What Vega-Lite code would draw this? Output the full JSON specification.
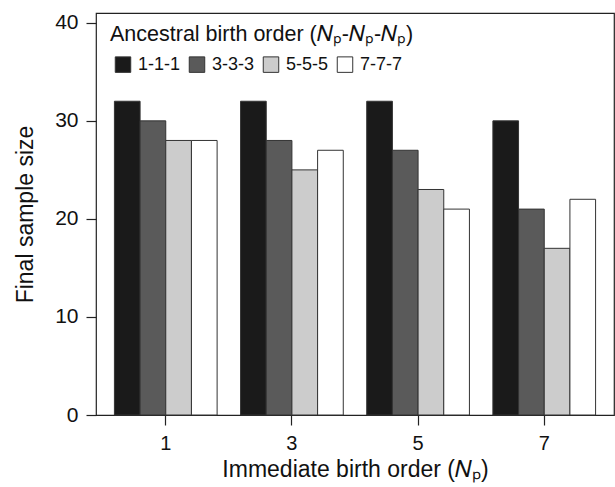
{
  "$schema": "https://vega.github.io/schema/vega-lite/v6.json",
  "width": 518,
  "height": 402,
  "autosize": {"type": "none"},
  "padding": {"left": 96, "top": 13, "right": 1, "bottom": 72},
  "background": "white",
  "config": {
    "font": "Liberation Sans",
    "view": {"stroke": "#222222", "strokeWidth": 1.2},
    "axis": {"grid": false, "domain": false, "tickColor": "#222222", "tickSize": 10, "tickWidth": 1.2, "labelColor": "#111111", "titleColor": "#111111", "labelFont": "Liberation Sans", "titleFont": "Liberation Sans", "titleFontWeight": "normal"}
  },
  "data": {
    "values": [
      {"np": "1", "anc": "1-1-1", "n": 32},
      {"np": "1", "anc": "3-3-3", "n": 30},
      {"np": "1", "anc": "5-5-5", "n": 28},
      {"np": "1", "anc": "7-7-7", "n": 28},
      {"np": "3", "anc": "1-1-1", "n": 32},
      {"np": "3", "anc": "3-3-3", "n": 28},
      {"np": "3", "anc": "5-5-5", "n": 25},
      {"np": "3", "anc": "7-7-7", "n": 27},
      {"np": "5", "anc": "1-1-1", "n": 32},
      {"np": "5", "anc": "3-3-3", "n": 27},
      {"np": "5", "anc": "5-5-5", "n": 23},
      {"np": "5", "anc": "7-7-7", "n": 21},
      {"np": "7", "anc": "1-1-1", "n": 30},
      {"np": "7", "anc": "3-3-3", "n": 21},
      {"np": "7", "anc": "5-5-5", "n": 17},
      {"np": "7", "anc": "7-7-7", "n": 22}
    ]
  },
  "mark": {"type": "bar", "stroke": "#333333", "strokeWidth": 1},
  "encoding": {
    "x": {
      "field": "np", "type": "nominal",
      "scale": {"paddingInner": 0.186, "paddingOuter": 0.146},
      "axis": {"labelAngle": 0, "labelFontSize": 20, "labelPadding": 8, "title": "Immediate birth order (𝑁ₚ)", "titleFontSize": 23, "titlePadding": 5}
    },
    "xOffset": {"field": "anc", "type": "nominal"},
    "y": {
      "field": "n", "type": "quantitative",
      "scale": {"domain": [0, 41], "nice": false},
      "axis": {"values": [0, 10, 20, 30, 40], "labelFontSize": 21, "labelPadding": 8, "title": "Final sample size", "titleFontSize": 23, "titlePadding": 17}
    },
    "color": {
      "field": "anc", "type": "nominal",
      "scale": {"domain": ["1-1-1", "3-3-3", "5-5-5", "7-7-7"], "range": ["#1a1a1a", "#5a5a5a", "#cccccc", "#ffffff"]},
      "legend": {
        "title": "Ancestral birth order (𝑁ₚ-𝑁ₚ-𝑁ₚ)",
        "orient": "none",
        "legendX": 14,
        "legendY": 11,
        "direction": "horizontal",
        "columns": 4,
        "titleFontSize": 21.5,
        "titleFontWeight": "normal",
        "titleColor": "#111111",
        "titleFont": "Liberation Sans",
        "titleLimit": 500,
        "titlePadding": 10,
        "labelFontSize": 18,
        "labelFont": "Liberation Sans",
        "labelColor": "#111111",
        "labelOffset": 6,
        "symbolType": "square",
        "symbolSize": 240,
        "symbolOffset": 4,
        "symbolStrokeColor": "#333333",
        "symbolStrokeWidth": 1,
        "columnPadding": 3,
        "padding": 0
      }
    }
  }
}
